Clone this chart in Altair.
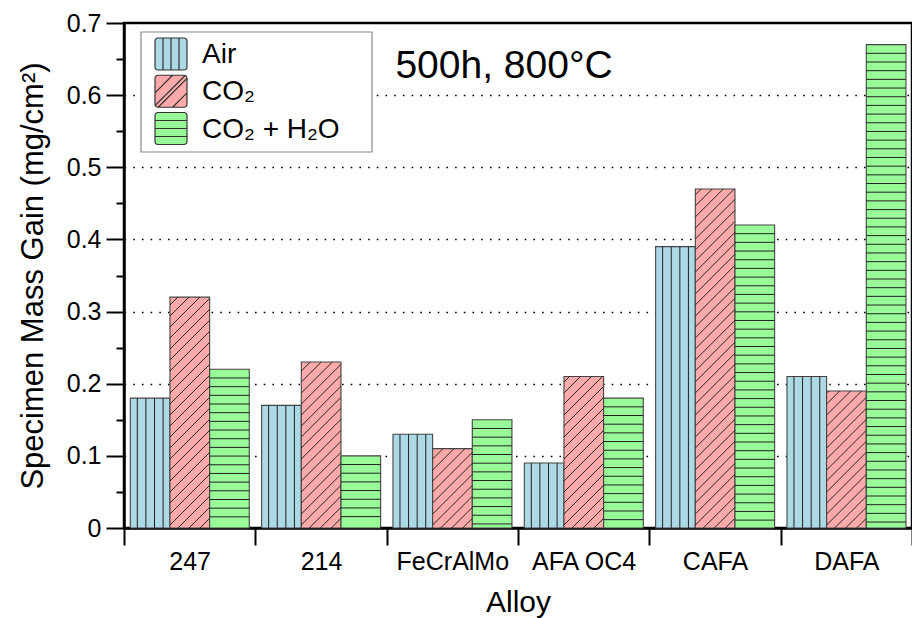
import altair as alt
import pandas as pd

# ---- data ----
alloys = ["247", "214", "FeCrAlMo", "AFA OC4", "CAFA", "DAFA"]
series = ["Air", "CO₂", "CO₂ + H₂O"]
air = [0.18, 0.17, 0.13, 0.09, 0.39, 0.21]
co2 = [0.32, 0.23, 0.11, 0.21, 0.47, 0.19]
co2_h2o = [0.22, 0.10, 0.15, 0.18, 0.42, 0.67]
colors = ["#add8e6", "#ffaaaa", "#98fb98"]
title_text = ["500h, 800°C"]

# ---- layout constants ----
W, H = 788, 505
YMAX = 0.7
PX_X = W / len(alloys)
PX_Y = H / YMAX
BAR_W = 0.302
BAR_START = 0.048

rows = []
for i, a in enumerate(alloys):
    for j, (s, vals) in enumerate(zip(series, [air, co2, co2_h2o])):
        x0 = i + BAR_START + j * BAR_W
        rows.append(dict(alloy=a, series=s, value=vals[i], x0=x0, x1=x0 + BAR_W, y0=0.0))
bars = pd.DataFrame(rows)

# hatch segments derived from the bar values
hatch = []
for r in rows:
    if r["series"] == series[0]:
        for k in range(4):
            xx = r["x0"] + (7 + 8.6 * k) / PX_X
            hatch.append(dict(x0=xx, x1=xx, y0=0.0, value=r["value"]))
    elif r["series"] == series[1]:
        Wp = BAR_W * PX_X
        Hp = r["value"] * PX_Y
        c = 3 - 11 * int(Wp / 11 + 2)
        while c < Hp:
            lo = max(0.0, -c)
            hi = min(Wp, Hp - c)
            if hi - lo > 0.5:
                hatch.append(dict(x0=r["x0"] + lo / PX_X, x1=r["x0"] + hi / PX_X,
                                  y0=(lo + c) / PX_Y, value=(hi + c) / PX_Y))
            c += 11
    else:
        step = 8.68 / PX_Y
        y = r["value"] - step
        while y > 0.004:
            hatch.append(dict(x0=r["x0"], x1=r["x1"], y0=y, value=y))
            y -= step
hatch_df = pd.DataFrame(hatch)

RR = "M-0.8,-1H0.8A0.2,0.2 0 0 1 1,-0.8V0.8A0.2,0.2 0 0 1 0.8,1H-0.8A0.2,0.2 0 0 1 -1,0.8V-0.8A0.2,0.2 0 0 1 -0.8,-1Z"
sym_paths = [
    RR + " M-0.5,-1V1 M0,-1V1 M0.5,-1V1",
    RR + " M-1,0.1L0.1,-1 M-0.8,1L1,-0.8 M-1,0.9L0.9,-1 M0.1,1L1,0.1",
    RR + " M-1,-0.5H1 M-1,0H1 M-1,0.5H1",
]

FONT = "Liberation Sans, Arial, Helvetica, sans-serif"

xscale = alt.Scale(domain=[0, len(alloys)], nice=False, zero=False)
yscale = alt.Scale(domain=[0, YMAX], nice=False)
fill_scale = alt.Scale(domain=series, range=colors)

cat_js = "[" + ",".join("'" + a + "'" for a in alloys) + "]"
x_axis = alt.Axis(
    values=list(range(len(alloys) + 1)),
    labelExpr=f"datum.value < {len(alloys)} ? {cat_js}[datum.value] : ''",
    labelOffset=PX_X / 2,
    labelOverlap=False,
    labelFlush=False,
    labelBound=False,
    labelFont=FONT,
    labelFontSize=25,
    labelColor="black",
    labelPadding=4,
    tickSize=17,
    tickWidth=2,
    tickColor="black",
    domainColor="black",
    domainWidth=2.5,
    grid=False,
    title="Alloy",
    titleFont=FONT,
    titleFontSize=30,
    titleFontWeight="normal",
    titleColor="black",
    titlePadding=13,
)

minor_test = "round(datum.value*100) % 10 != 0"
y_axis = alt.Axis(
    values=[round(k * 0.05, 2) for k in range(15)],
    labelExpr=f"{minor_test} ? '' : (datum.value == 0 ? '0' : format(datum.value, '.1f'))",
    labelFont=FONT,
    labelFontSize=25,
    labelColor="black",
    labelPadding=5,
    tickSize={"condition": {"test": minor_test, "value": 8}, "value": 18},
    tickWidth=2,
    tickColor="black",
    domainColor="black",
    domainWidth=2.5,
    grid=True,
    gridColor="black",
    gridWidth=1.6,
    gridDash=[1.6, 7.1],
    gridOpacity={"condition": {"test": f"{minor_test} || datum.value == 0 || datum.value >= 0.69", "value": 0}, "value": 1},
    title="Specimen Mass Gain (mg/cm²)",
    titleFont=FONT,
    titleFontSize=31,
    titleFontWeight="normal",
    titleColor="black",
    titlePadding=17,
)

X = alt.X("x0:Q", scale=xscale, axis=x_axis)
Y = alt.Y("y0:Q", scale=yscale, axis=y_axis)

bar_layer = alt.Chart(bars).mark_rect(stroke="#444444", strokeWidth=1.1).encode(
    x=X, x2="x1:Q", y=Y, y2="value:Q",
    fill=alt.Fill("series:N", scale=fill_scale, legend=None),
)

hatch_layer = alt.Chart(hatch_df).mark_rule(color="#222222", strokeWidth=1).encode(
    x=X, x2="x1:Q", y=Y, y2="value:Q",
)

plot = alt.layer(bar_layer, hatch_layer)

# ---- legend (drawn as marks so the hatch symbols show) ----
legend_df = pd.DataFrame({"series": series})
LY = alt.Y("series:N", scale=alt.Scale(type="point", domain=series, range=[31, 105.5], padding=0), axis=None)

legend_box = alt.Chart(pd.DataFrame({"k": [0]})).mark_rect(
    fill="white", stroke="#888888", strokeWidth=1.2
).encode(
    x=alt.value(17), x2=alt.value(248), y=alt.value(9), y2=alt.value(129),
)

legend_sym = alt.Chart(legend_df).mark_point(
    filled=True, opacity=1, size=1024, stroke="#333333", strokeWidth=1.2
).encode(
    x=alt.value(47),
    y=LY,
    fill=alt.Fill("series:N", scale=fill_scale, legend=None),
    shape=alt.Shape("series:N", scale=alt.Scale(domain=series, range=sym_paths), legend=None),
)

legend_txt = alt.Chart(legend_df).mark_text(
    font=FONT, fontSize=28, color="black", align="left", baseline="middle", dy=1
).encode(
    x=alt.value(78),
    y=LY,
    text="series:N",
)

title_layer = alt.Chart(pd.DataFrame({"t": title_text})).mark_text(
    font=FONT, fontSize=39, color="black", align="center", baseline="middle"
).encode(
    text="t:N",
    x=alt.value(380),
    y=alt.value(43),
)

overlay = alt.layer(legend_box, legend_sym, legend_txt, title_layer)

chart = alt.layer(plot, overlay).resolve_scale(
    y="independent"
).properties(
    width=W,
    height=H,
    autosize=alt.AutoSizeParams(type="none"),
    padding={"left": 124, "top": 23, "right": 0, "bottom": 90},
    background="white",
).configure_view(
    stroke="black", strokeWidth=2.5
)

chart.save("out.html", embed_options={"renderer": "svg", "actions": False})
